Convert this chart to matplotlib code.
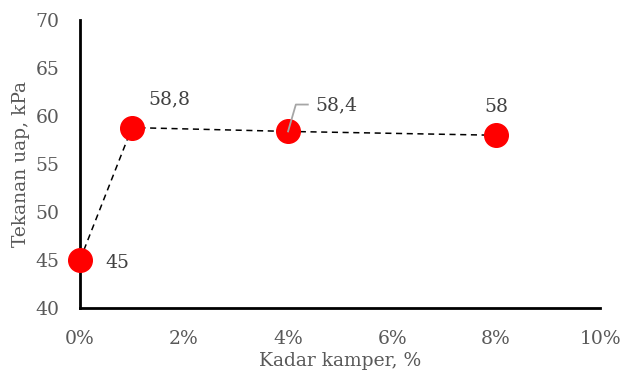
import matplotlib.pyplot as plt
from matplotlib.ticker import FuncFormatter

# kadar kamper (%) vs tekanan uap (kPa)
kadar = [0, 1, 4, 8]
tekanan = [45, 58.8, 58.4, 58]
label_teks = ["45", "58,8", "58,4", "58"]

plt.rcParams['font.family'] = ['DejaVu Serif']

fig = plt.figure(figsize=(6.2, 3.72), dpi=100)
ax = fig.add_axes([0.129, 0.172, 0.839, 0.774])

ax.plot(kadar, tekanan, linestyle=(0, (4, 3)), color="black", linewidth=1.1, zorder=2)
ax.plot(kadar, tekanan, linestyle="none", marker="o", markersize=17,
        color="#ff0000", zorder=3, clip_on=False)

ax.set_xlim(0, 10)
ax.set_ylim(40, 70)
ax.set_xticks(range(0, 11, 2))
ax.set_yticks(range(40, 71, 5))
ax.xaxis.set_major_formatter(FuncFormatter(lambda v, p: f"{v:.0f}%"))

for side in ["top", "right"]:
    ax.spines[side].set_visible(False)
for side in ["left", "bottom"]:
    ax.spines[side].set_linewidth(2)
    ax.spines[side].set_color("black")

fs = 13.5
ax.tick_params(axis="y", length=0, labelsize=fs, colors="#595959", pad=15)
ax.tick_params(axis="x", length=0, labelsize=fs, colors="#595959", pad=16)
ax.set_xlabel("Kadar kamper, %", fontsize=fs, color="#595959", labelpad=3)
ax.set_ylabel("Tekanan uap, kPa", fontsize=fs, color="#595959", labelpad=4)

# label nilai
warna_label = "#404040"
ax.annotate(label_teks[0], (kadar[0], tekanan[0]), xytext=(18, -2),
            textcoords="offset points", fontsize=fs, color=warna_label,
            va="center", ha="left")
ax.annotate(label_teks[1], (kadar[1], tekanan[1]), xytext=(12, 20),
            textcoords="offset points", fontsize=fs, color=warna_label,
            va="center", ha="left")
ax.annotate(label_teks[2], (kadar[2], tekanan[2]), xytext=(20, 19),
            textcoords="offset points", fontsize=fs, color=warna_label,
            va="center", ha="left")
ax.plot([kadar[2], kadar[2] + 0.15, kadar[2] + 0.38],
        [tekanan[2], tekanan[2] + 2.8, tekanan[2] + 2.8],
        color="#a6a6a6", linewidth=1.3, zorder=4)
ax.annotate(label_teks[3], (kadar[3], tekanan[3]), xytext=(0, 20),
            textcoords="offset points", fontsize=fs, color=warna_label,
            va="center", ha="center")

fig.savefig("out.png", dpi=100)
